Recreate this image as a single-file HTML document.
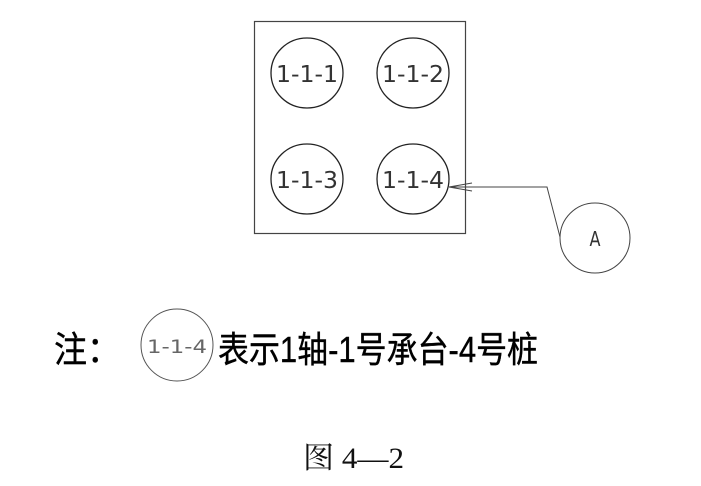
<!DOCTYPE html>
<html><head><meta charset="utf-8"><style>
html,body{margin:0;padding:0;background:#fff;}
svg{display:block;}
</style></head><body>
<svg width="701" height="486" viewBox="0 0 701 486" xmlns="http://www.w3.org/2000/svg">
<rect x="254.5" y="21.5" width="211" height="212" fill="none" stroke="#444" stroke-width="1.2"/>
<g fill="none" stroke="#222" stroke-width="1.3">
<ellipse cx="307" cy="73" rx="36" ry="35"/>
<ellipse cx="413" cy="73" rx="36" ry="35"/>
<ellipse cx="307" cy="179" rx="36" ry="35"/>
<ellipse cx="413" cy="179" rx="36" ry="35"/>
<circle cx="595" cy="238" r="35" stroke="#444" stroke-width="1"/>
<circle cx="177" cy="345" r="36" stroke="#555" stroke-width="1"/>
</g>
<g fill="none" stroke="#444" stroke-width="1">
<polyline points="449,187 547,187 560,237"/>
<line x1="449" y1="187" x2="472" y2="183"/>
<line x1="449" y1="187" x2="472" y2="191"/>
</g>
<g font-family="'DejaVu Sans Condensed','Liberation Sans Narrow','Liberation Sans',sans-serif" font-size="23" font-weight="200" fill="#333" text-anchor="middle">
<text x="307" y="82" textLength="62" lengthAdjust="spacingAndGlyphs">1-1-1</text>
<text x="413" y="82" textLength="62" lengthAdjust="spacingAndGlyphs">1-1-2</text>
<text x="307" y="188" textLength="62" lengthAdjust="spacingAndGlyphs">1-1-3</text>
<text x="413" y="188" textLength="62" lengthAdjust="spacingAndGlyphs">1-1-4</text>
<text x="595" y="246" font-size="20" textLength="11" lengthAdjust="spacingAndGlyphs">A</text>
<text x="177" y="353" font-size="19" fill="#666" textLength="60" lengthAdjust="spacingAndGlyphs">1-1-4</text>
</g>
<g font-family="'Liberation Sans','Noto Sans CJK SC',sans-serif" fill="#000" font-size="36" stroke="#000" stroke-width="0.4">
<text x="54" y="362" textLength="66" lengthAdjust="spacingAndGlyphs">注：</text>
<text x="218" y="362" textLength="320" lengthAdjust="spacingAndGlyphs">表示1轴-1号承台-4号桩</text>
</g>
<text x="303" y="468" font-family="'Liberation Serif','Noto Serif CJK SC',serif" font-size="30" fill="#111" textLength="101" lengthAdjust="spacingAndGlyphs">图 4—2</text>
</svg>
</body></html>
